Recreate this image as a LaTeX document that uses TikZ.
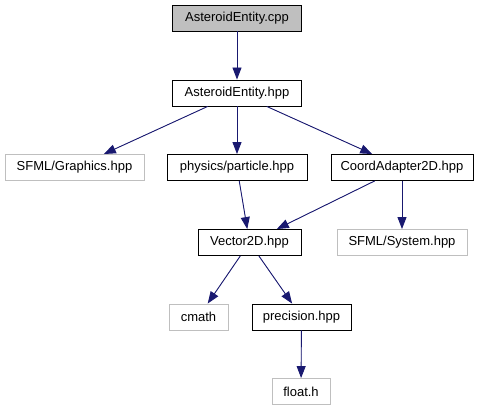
\documentclass[tikz,border=0pt]{standalone}
\usepackage{fontspec}
\setmainfont{Liberation Sans}
\usepackage{tikz}
\usetikzlibrary{arrows.meta}

\definecolor{edgeblue}{HTML}{191970}
\definecolor{greyline}{HTML}{BFBFBF}

\begin{document}
\begin{tikzpicture}[
  x=1pt, y=-1pt,
  file/.style={rectangle, draw=black, line width=0.9pt, minimum height=26pt, inner sep=0pt, font=\fontsize{13}{15}\selectfont},
  ext/.style={file, draw=greyline},
  arr/.style={-{Triangle[length=12pt, width=9pt]}, draw=edgeblue, fill=edgeblue, line width=0.9pt}
]
  \useasboundingbox (0,0) rectangle (480,411);

  % Root file
  \node[file, fill=greyline, minimum width=129pt] (cpp) at (237, 18) {AsteroidEntity.cpp};
  \node[file, minimum width=129pt] (hpp) at (237, 93) {AsteroidEntity.hpp};

  % Direct includes
  \node[ext, minimum width=139pt] (graphics) at (74.5, 167.5) {SFML/Graphics.hpp};
  \node[file, minimum width=140pt] (particle) at (237, 167.5) {physics/particle.hpp};
  \node[file, minimum width=142pt] (coord) at (402, 167.5) {CoordAdapter2D.hpp};

  % Second level
  \node[file, minimum width=103pt] (vector) at (249.5, 242.5) {Vector2D.hpp};
  \node[ext, minimum width=130pt] (system) at (402, 242.5) {SFML/System.hpp};

  % Third level
  \node[ext, minimum width=59pt] (cmath) at (198.5, 317) {cmath};
  \node[file, minimum width=99pt] (precision) at (301.5, 317) {precision.hpp};
  \node[ext, minimum width=58pt] (floath) at (301, 391.5) {float.h};

  % Include edges
  \draw[arr] (cpp) -- (hpp);
  \draw[arr] (hpp) -- (graphics);
  \draw[arr] (hpp) -- (particle);
  \draw[arr] (hpp) -- (coord);
  \draw[arr] (particle) -- (vector);
  \draw[arr] (coord) -- (vector);
  \draw[arr] (coord) -- (system);
  \draw[arr] (vector) -- (cmath);
  \draw[arr] (vector) -- (precision);
  \draw[arr] (precision) -- (floath);
\end{tikzpicture}
\end{document}
